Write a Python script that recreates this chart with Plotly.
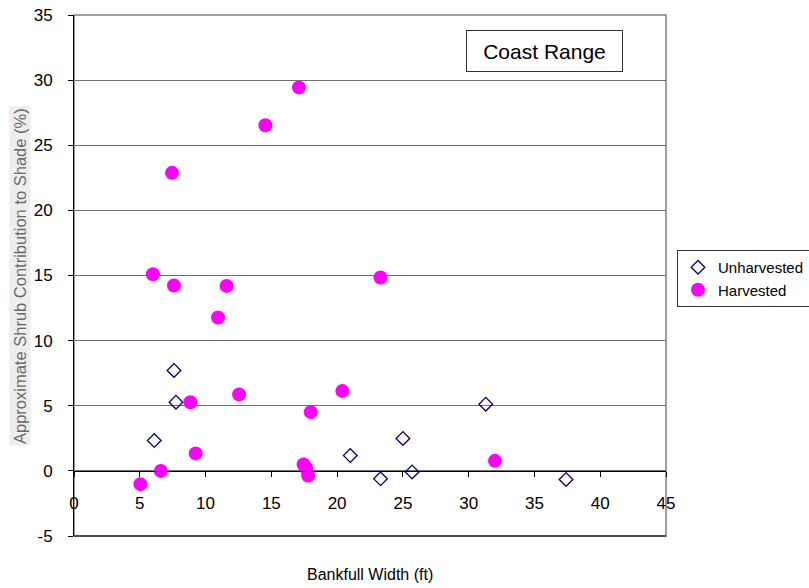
import plotly.graph_objects as go

# Data
unharv_x = [6.1, 7.6, 7.75, 21.0, 23.3, 25.0, 25.7, 31.3, 37.4]
unharv_y = [2.33, 7.71, 5.27, 1.18, -0.61, 2.49, -0.08, 5.12, -0.66]

harv_x = [5.05, 6.0, 6.6, 7.45, 7.6, 8.85, 9.25, 10.95, 11.6, 12.55, 14.55, 17.1,
          17.45, 17.65, 17.8, 18.0, 20.4, 23.3, 32.0]
harv_y = [-1.02, 15.1, 0.0, 22.88, 14.23, 5.27, 1.34, 11.78, 14.2, 5.87, 26.54, 29.44,
          0.49, 0.23, -0.35, 4.51, 6.14, 14.85, 0.77]

x_ticks = [0, 5, 10, 15, 20, 25, 30, 35, 40, 45]
y_ticks = [-5, 0, 5, 10, 15, 20, 25, 30, 35]

FONT = "Liberation Sans, Arial, sans-serif"

fig = go.Figure()
fig.add_trace(go.Scatter(
    x=unharv_x, y=unharv_y, mode="markers", name="Unharvested",
    marker=dict(symbol="diamond-open", size=10.5, color="#000080", line=dict(width=1.3, color="#000080")),
))
fig.add_trace(go.Scatter(
    x=harv_x, y=harv_y, mode="markers", name="Harvested",
    marker=dict(symbol="circle", size=14, color="#FF00FF", line=dict(width=0)),
))

W, H = 809, 588
L, R, T, B = 74, 143, 15, 52
PW, PH = W - L - R, H - T - B

def px_x(px):
    return (px - L) / PW

def px_y(py):
    return (H - B - py) / PH

fig.update_layout(
    width=W, height=H,
    margin=dict(l=L, r=R, t=T, b=B, autoexpand=False),
    paper_bgcolor="white", plot_bgcolor="white",
    font=dict(family=FONT, color="black", size=17),
    showlegend=True,
    legend=dict(
        x=px_x(677), y=px_y(250),
        xanchor="left", yanchor="top",
        bordercolor="#333333", borderwidth=1, bgcolor="white",
        font=dict(size=15, family=FONT),
        itemwidth=30, tracegroupgap=0,
    ),
    xaxis=dict(
        range=[0, 45], tickvals=x_ticks, ticktext=[str(v) for v in x_ticks],
        showgrid=False, zeroline=False,
        showline=True, linecolor="black", linewidth=1,
        ticks="outside", ticklen=5, tickcolor="black",
        anchor="free", position=0.125,
        ticklabelstandoff=12,
        tickfont=dict(size=17),
    ),
    yaxis=dict(
        range=[-5, 35], tickvals=y_ticks, ticktext=[str(v) for v in y_ticks],
        showgrid=True, gridcolor="#707070", gridwidth=1, zeroline=False,
        showline=True, linecolor="black", linewidth=1,
        ticks="outside", ticklen=5, tickcolor="black",
        ticklabelstandoff=12,
        tickfont=dict(size=17),
    ),
    shapes=[
        dict(type="rect", xref="paper", yref="paper", x0=0, x1=1, y0=0, y1=1,
             line=dict(color="#808080", width=1.5), layer="below"),
        dict(type="line", xref="paper", yref="paper", x0=0, x1=1, y0=0, y1=0,
             line=dict(color="#333333", width=1.5)),
    ],
    annotations=[
        dict(text="Coast Range", xref="paper", yref="paper",
             x=px_x(544.5), y=px_y(51.5),
             xanchor="center", yanchor="middle", showarrow=False,
             font=dict(size=21, family=FONT, color="black"),
             bordercolor="#333333", borderwidth=1, borderpad=8, bgcolor="white",
             width=139, height=24),
        dict(text="Bankfull Width (ft)", xref="paper", yref="paper",
             x=px_x(370), y=px_y(574),
             xanchor="center", yanchor="middle", showarrow=False,
             font=dict(size=16, family=FONT, color="black")),
        dict(text="Approximate Shrub Contribution to Shade (%)", xref="paper", yref="paper",
             x=px_x(20), y=px_y(276),
             xanchor="center", yanchor="middle", showarrow=False, textangle=-90,
             font=dict(size=16.5, family=FONT, color="#6a6a6a"),
             bgcolor="#eeeeee"),
    ],
)

fig.write_html("out.html")
